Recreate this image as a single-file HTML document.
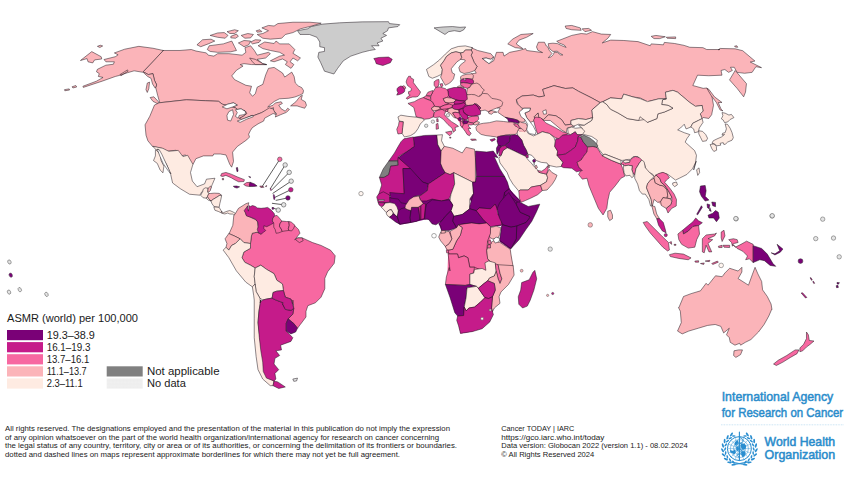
<!DOCTYPE html>
<html><head><meta charset="utf-8"><title>Cancer Today map</title>
<style>
html,body{margin:0;padding:0;background:#fff;}
body{width:850px;height:478px;overflow:hidden;position:relative;font-family:"Liberation Sans",sans-serif;}
svg{position:absolute;left:0;top:0;}
#map path{stroke:#1c141c;stroke-width:0.5;stroke-linejoin:round;}
text{font-family:"Liberation Sans",sans-serif;}
.leg{font-size:10px;fill:#1a1a1a;}
.ft{font-size:7.6px;fill:#1a1a1a;}
.logo{fill:#2a8ccb;stroke:#2a8ccb;stroke-width:0.5px;}
</style></head><body>
<svg width="850" height="478" viewBox="0 0 850 478">
<g id="map">
<path d="M80.47,60.47 91.76,51.62 101.18,56.71 101.74,58.96 94.59,59.91 92.71,62.92 88,61.79 87.06,58.59ZM97.41,46.35 100.24,45.22 102.68,45.98 99.86,47.48Z" fill="#fbb4b9"/>
<path d="M162.12,50.47 180,50.47 191.29,49.53 196,51.04 206.35,52.92 208.24,55.18 213.88,56.12 217.65,53.67 228.94,53.67 242.12,55.18 245.88,52.35 244.94,47.65 250.59,45.76 254.35,50.47 257.18,55.18 268.47,52.35 270.35,53.67 265.65,58 257.18,59.32 262.82,63.65 266.59,64.59 251.53,64.59 244,63.65 240.24,64.59 243.06,66.09 236.47,70.24 231.76,75.88 234.59,79.65 245.88,85.29 251.53,86.24 249.65,92.82 252.47,96.21 255.29,93.76 257.18,87.18 262.82,84.35 265.65,74.94 268.47,68.35 274.12,67.41 282.59,73.06 284.71,77.06 291.76,72.12 294.12,76.47 295.29,82.94 298.24,85.88 301.76,87.65 303.53,90.59 302.94,93.53 299.41,95.29 294.71,97.06 288.82,98.24 279.41,98.82 274.71,101.18 270,104.71 267.65,107.06 272.94,105.29 275.29,102.94 281.18,101.76 282.35,103.53 278.82,105.29 281.18,108.82 285.29,111.18 287.65,108.24 289.41,109.41 286.47,112.35 280.59,114.71 275.29,117.06 276.47,113.53 273.53,110.59 273.53,107.65 268.82,109.41 261.76,112.59 254.24,115.41 250.47,116.35 242.94,120.12 239.18,118.24 242.94,116.35 246.71,113.53 244.82,110.71 239.18,110.71 235.41,107.88 222.24,104.12 218.47,101.29 205.29,100.73 186.47,99.79 159.18,102.8 159.53,101.88 157.65,95.29 155.76,87.76 156.71,84.94 154.45,80.24 152.94,73.65 148.24,74.59 143.15,71.76 163.29,50.49Z" fill="#fbb4b9"/>
<path d="M222.24,106.94 227.88,104.12 233.53,102.8 237.29,105.06 232.59,106.94 226.94,108.82ZM228.82,111.65 232.59,109.76 233.53,114.47 230.71,121.06 227.51,120.12 226.94,115.41ZM235.41,109.76 241.06,108.82 245.76,111.65 244.82,114.47 239.18,115.41 238.24,118.24 235.41,116.35 237.29,112.59ZM237.29,121.06 244.82,118.24 252.35,115.41 253.29,116.73 246.71,119.18 240.12,122.38Z" fill="#fff"/>
<path d="M258.12,45.76 264.71,42 274.12,43.51 276,41.06 279.76,43.88 289.18,43.88 294.82,49.53 292.94,53.29 300.47,58 297.65,60.82 292.94,58 290.12,61.76 293.88,64.59 291.06,68.35 285.41,64.59 287.29,61.76 282.59,58.94 274.12,61.76 270.35,60.82 279.76,56.12 284.47,55.18 279.76,52.35 270.35,50.47 262.82,48.59ZM261.88,27.88 268.47,25.44 274.12,26 277.88,23.55 292.94,22.24 309.88,22.24 321.18,23.18 311.76,26 300.47,28.82 292.94,32.59 285.41,34.47 281.65,38.24 270.35,39.18 262.82,38.24 257.18,34.47 262.82,33.53 268.47,30.71ZM209.18,45.76 223.29,43.88 231.76,41.06 234.59,46.71 236.47,50.47 230.82,51.79 217.65,52.35 210.12,51.41 207.29,49.53ZM196.94,44.82 202.59,39.74 211.06,39.18 214.82,41.06 208.24,43.88 200.71,46.71ZM210.12,35.41 217.65,32.96 224.24,32.59 228,35.41 225.18,38.24 217.65,37.29ZM227.06,31.65 234.59,29.76 238.35,30.71 234.59,33.53 229.88,33.53ZM230.82,36.35 236.47,34.09 238.35,36.35 235.53,38.24 230.82,37.86ZM241.18,35.41 247.76,33.53 253.41,34.47 250.59,37.86 244.94,38.24ZM256.24,30.71 260,29.76 261.88,31.65 257.18,32.21ZM238.35,42.94 244,40.49 250.59,41.06 248.71,44.82 244,46.71ZM250.59,42 255.29,39.74 260.94,40.12 259.06,42.38 252.47,43.88ZM249.65,58 255.29,59.32 262.82,63.65 266.59,64.59 255.29,64.59 252.47,61.76Z" fill="#fbb4b9"/>
<path d="M290.59,105.88 295.88,101.76 300,96.47 302.35,95.29 301.18,99.41 305.29,101.76 306.47,105.29 304.71,108.24 300.59,107.06 297.06,105.88Z" fill="#fbb4b9"/>
<path d="M114.35,52.94 124.71,49.18 138.82,46.35 152.94,48.24 163.29,50.49 143.15,71.76 148.24,74.59 152.94,73.65 154.45,80.24 156.71,84.94 155.2,88.14 152.56,84 151.06,78.35 147.67,76.47 143.15,72.33 134.12,70.82 127.53,72.71 119.06,75.53 115.29,76.47 102.12,81.18 83.29,87.39 82.92,86.26 96.47,81.18 103.06,77.41 98.35,76.47 99.29,73.65 96.47,71.76 97.41,69.32 105.88,65.18 113.41,64.24 114.35,61.79 105.88,61.79 104,59.53 115.29,56.71 118.12,54.82ZM64.47,89.65 69.18,88.89 69.55,90.02 64.85,90.78ZM72,86.82 75.76,85.51 76.71,87.01 72.94,87.95ZM120,74.59 127.53,69.88 128.09,71.2 120.94,75.72ZM147.29,83.06 149.55,82.12 148.8,88.71 147.29,92.47 145.98,89.65ZM150.12,97.55 153.88,96.8 158.59,101.88 157.65,103.76 152.94,101.32Z" fill="#fbb4b9"/>
<path d="M159.18,102.8 186.47,99.79 205.29,100.73 218.47,101.29 222.24,104.12 235.41,107.88 239.18,110.71 244.82,110.71 246.71,113.53 242.94,116.35 239.18,118.24 242.94,120.12 250.47,116.35 254.24,115.41 261.76,112.59 269.29,107.88 273.06,108.82 275.88,114.47 273.06,113.53 264.59,118.24 263.65,121.06 258,123.88 252.35,127.65 250.47,130.47 248.59,134.24 249.53,137.06 246.71,139.88 237.29,146.47 232.59,152.12 233.53,161.53 231.65,167.18 229.76,164.35 226,154.94 220.35,154 213.76,154 212.82,155.88 203.41,155.88 195.88,158.71 193.06,164.35 190.24,164.35 185.53,154.94 180.82,155.88 176.12,150.24 167.65,151.18 162,148.35 152.59,146.47 147.88,140.82 146,135.18 145.06,124.82 149.76,116.35 154.47,105.06Z" fill="#fbb4b9"/>
<path d="M222.24,106.94 227.88,104.12 233.53,102.8 237.29,105.06 232.59,106.94 226.94,108.82ZM228.82,111.65 232.59,109.76 233.53,114.47 230.71,121.06 227.51,120.12 226.94,115.41ZM235.41,109.76 241.06,108.82 245.76,111.65 244.82,114.47 239.18,115.41 238.24,118.24 235.41,116.35 237.29,112.59ZM237.29,121.06 244.82,118.24 252.35,115.41 253.29,116.73 246.71,119.18 240.12,122.38Z" fill="#fff"/>
<path d="M152.82,146.24 162.8,148.31 168.82,151.32 178.24,150.38 182.94,156.59 187.65,155.27 192.92,164.31 190.47,172.59 192.35,181.06 197.06,186.71 204.59,183.88 206.47,179.18 214.94,178.24 212.12,184.82 210.24,189.53 208.73,188.78 206.47,188.59 201.76,191.79 199.88,195.18 189.53,194.24 180.12,188.59 172.59,182.94 170.71,174.47 166.94,165.06 161.29,155.65ZM155.41,150.24 158.24,149.29 160.12,154 161.06,160.59 163.88,166.24 162.94,172.82 160.12,170 157.29,163.41 153.53,160.59 155.41,155.88Z" fill="#feebe2"/>
<path d="M200.66,195.28 202.79,191.37 203.15,189.24 205.28,187.82 208.12,188.17 207.77,192.08 208.83,193.5 207.41,196.7 205.99,198.12 203.15,197.77Z" fill="#feebe2"/>
<path d="M208.12,188.17 210.61,186.04 211.32,187.11 210.26,190.66 208.83,192.08 207.77,192.08Z" fill="#fbb4b9"/>
<path d="M207.41,196.7 208.83,193.5 210.61,193.5 214.16,193.15 219.14,193.36 221.63,195.28 219.85,195.28 217.01,197.06 213.45,199.19 210.97,200.97 208.83,198.83Z" fill="#fbb4b9"/>
<path d="M205.99,198.12 207.41,197.06 208.83,198.83 210.97,200.97 208.48,200.26Z" fill="#feebe2"/>
<path d="M210.97,200.97 213.45,199.19 217.01,197.06 219.85,195.28 221.63,195.64 220.92,199.19 219.85,203.45 219.14,207.36 214.16,206.65 212.03,203.81Z" fill="#feebe2"/>
<path d="M213.81,206.87 219.14,207.36 221.27,210.92 222.34,213.4 218.78,211.63 214.88,210.21Z" fill="#feebe2"/>
<path d="M221.27,211.27 223.4,212.69 226.96,211.27 229.8,210.56 233,211.98 235.49,213.4 234.42,215.54 232.64,214.12 229.8,213.97 227.67,213.05 224.83,213.97 222.34,213.4Z" fill="#feebe2"/>
<path d="M220.59,175.94 221.65,173.51 225.88,172.45 231.18,174.14 237.53,177 244.41,179.65 243.88,181.55 238.59,181.77 235.41,180.18 231.18,177.74 225.88,175.41 222.71,176.47ZM222.18,178.59 223.55,178.38 223.55,179.86 222.39,179.86Z" fill="#f768a1"/>
<path d="M233.3,186.21 236.47,186 239.65,186.85 237,188.12 234.35,187.27Z" fill="#7a0177"/>
<path d="M243.67,184.41 246.53,182.61 250.24,182.3 249.71,186.53 246,186Z" fill="#f768a1"/>
<path d="M250.24,182.3 254.47,183.88 257.12,186 253.41,186.53 249.71,186.53 249.39,184.41Z" fill="#7a0177"/>
<path d="M236.26,167.79 237.53,167.47 238.06,171.18 237,171.71ZM248.65,176.47 250.77,177 250.24,177.74Z" fill="#7a0177"/>
<path d="M259.77,186 262.94,186.21 264,187.27 260.83,187.59ZM265.59,186 266.65,185.47 266.12,187.06Z" fill="#f768a1"/>
<path d="M250.47,243.53 251.41,236 252.35,233.18 257.06,232.24 260.82,234.12 262.71,231.29 262.71,225.65 272.12,222.82 279.65,221.88 289.06,222.82 294.71,225.65 298.47,229.41 299.98,233.18 298.47,235.06 294.71,239.76 297.53,237.88 302.24,237.88 312.59,242.59 321.06,245.41 330.47,250.12 335.18,255.76 334.24,263.29 327.65,271.76 324.82,278.35 324.82,288.71 321.06,297.18 315.41,302.82 307.88,305.65 306,311.29 306,316.94 300.35,324.47 297.53,328.24 293.76,323.53 288.12,318.82 292.82,314.12 293.76,308.47 292.82,300 292.82,304.71 290.94,299.06 285.29,297.18 283.41,290.59 282.47,284 276.82,280.24 274,273.65 266.47,269.32 260.82,265.18 255.18,268 250.47,265.18 244.82,262.35 242,257.65 243.88,252 250.47,248.24Z" fill="#f768a1"/>
<path d="M235.65,213.06 238.47,208.35 246,203.65 248.82,202.71 247.88,206.47 245.06,209.29 246,214.94 251.65,217.76 257.29,220.59 258.24,228.12 259.18,232.82 257.06,232.24 252.35,233.18 251.41,236 250.47,243.53 243.88,242.59 240.12,238.82 234.47,236 228.82,233.55 229.06,233.76 232.82,225.29 233.76,215.88Z" fill="#fbb4b9"/>
<path d="M244.12,210.71 246.47,207.88 247.41,206 247.88,208.82 248.35,211.18 248.82,208.35 248.82,205.53 250.24,206.47 252.59,205.53 255.41,206.47 257.29,207.88 261.06,208.35 264.82,207.88 267.65,207.41 269.53,208.82 271.41,210.24 274.24,213.53 274.71,215.88 272.82,218.24 272.35,221.06 273.76,222.94 270.47,224.82 266.71,226.71 263.88,225.76 263.88,228.59 265.76,230.47 263.41,232.35 261.06,234.24 258.24,232.35 257.29,229.53 258.24,226.71 257.76,222 255.41,219.18 250.71,217.29 246.47,215.88 245.53,213.06Z" fill="#c51b8a"/>
<path d="M274.71,215.88 277.06,215.41 280.35,219.18 281.76,221.06 279.88,223.88 279.41,226.24 281.29,229.06 282.24,231.41 278.94,232.82 276.12,233.29 275.18,229.53 273.76,227.18 273.76,222.94 272.35,221.06 272.82,218.24Z" fill="#f768a1"/>
<path d="M281.76,221.06 286.47,221.53 288.82,221.53 289.29,225.29 288.35,228.59 288.82,230.47 285.06,230.94 282.24,231.41 281.29,229.06 279.41,226.24 279.88,223.88Z" fill="#f768a1"/>
<path d="M288.82,221.53 291.18,222 294.94,225.29 293.53,228.59 291.65,230.94 288.82,230.47 288.35,228.59 289.29,225.29Z" fill="#f768a1"/>
<path d="M225.06,238.82 228.82,233.55 234.47,236 240.12,238.82 235.41,243.53 231.65,245.41 228.82,250.12 226,247.29 226.94,243.53Z" fill="#fbb4b9"/>
<path d="M226,247.29 228.82,250.12 231.65,245.41 235.41,243.53 240.12,238.82 243.88,242.59 250.47,243.53 250.47,248.24 243.88,252 242,257.65 244.82,262.35 250.47,265.18 255.18,268 254.24,276.47 255.18,284 252.35,286.82 245.76,282.12 236.35,270.82 228.82,257.65 223.18,250.12Z" fill="#feebe2"/>
<path d="M255.18,268 260.82,265.18 266.47,269.32 274,273.65 276.82,280.24 282.47,284 283.41,290.59 276.82,291.15 273.06,292.47 272.12,298.12 266.47,299.06 262.71,300 259.88,298.12 256.12,291.53 255.18,284 254.24,276.47Z" fill="#feebe2"/>
<path d="M252.35,286.82 255.18,284 256.12,291.53 259.88,298.12 260.45,302.82 260.82,300 258.94,311.29 258,322.59 259.88,337.65 261.76,350.82 264.59,362.12 265.53,371.53 268.35,378.12 274,380.94 273.06,385.65 270.24,385.65 262.71,379.06 258,369.65 256.12,356.47 254.24,337.65 254.24,318.82 254.24,300 253.67,295.29Z" fill="#feebe2"/>
<path d="M259.88,302.82 262.71,300 266.47,299.06 272.12,298.12 275.88,300 283.41,302.82 285.29,308.47 282.47,303.76 285.29,309.41 290.94,310.35 293.76,308.47 292.82,314.12 288.12,318.82 286.24,323.53 286.24,331.06 290,334.82 292.82,337.65 290.94,341.41 280.59,345.18 281.53,349.88 275.88,350.82 279.65,355.53 274.94,358.35 274,364 278.71,369.65 274.94,373.41 275.88,379.06 274,380.94 266.47,378.12 263.27,371.53 262.71,362.12 260.82,350.82 259.32,337.65 258,322.59 258.94,311.29 260.82,300ZM274,380.94 277.76,381.88 285.29,386.96 278.71,388.47 273.06,385.65Z" fill="#c51b8a"/>
<path d="M273.06,292.47 276.82,291.15 283.41,290.59 285.29,297.18 290.94,299.06 292.82,304.71 293.76,308.47 290.94,310.35 285.29,309.41 282.47,303.76 283.41,302.82 275.88,300 272.12,298.12Z" fill="#c51b8a"/>
<path d="M286.24,323.53 288.12,318.82 293.76,323.53 297.53,328.24 295.65,332 290.94,333.88 286.24,331.06Z" fill="#7a0177"/>
<path d="M292.82,379.06 297.53,378.12 296.59,380.94 293.76,381.32Z" fill="#e4e4e4"/>
<path d="M295.65,239.76 297.53,237.88 302.24,237.88 303.18,240.71 299.41,242.59Z" fill="#f768a1"/>
<path d="M297.55,30.71 307.53,28.82 311.29,26.56 322.59,24.12 339.53,22.8 362.12,21.86 388.47,21.67 389.41,23.55 399.76,24.68 397.88,26.56 388.47,27.88 387.53,30.71 382.82,33.53 386.59,35.41 380.94,38.24 382.82,41.06 377.18,42.94 379.06,45.76 371.53,45.76 375.29,49.53 369.65,50.47 362.12,52.35 350.82,56.12 343.29,60.82 337.65,68.35 333.88,74 324.47,71.18 320.71,62.71 317.88,57.06 318.82,52.35 324.47,51.41 324.47,47.65 319.76,46.71 319.76,42 316.94,37.29 309.41,34.47 300,34.47Z" fill="#cccccc"/>
<path d="M373.79,58.56 379.06,57.44 388.47,57.06 392.24,59.32 390.35,62.71 382.82,65.53 376.24,63.65 375.29,60.82Z" fill="#c51b8a"/>
<path d="M434.02,27.88 443.06,26.94 452.47,26.56 460,27.32 465.65,26.94 463.76,29.76 460,31.65 454.35,30.71 448.71,31.65 444.94,34.47 440.24,31.65Z" fill="#cccccc"/>
<path d="M471.06,47.65 477.65,50.47 490.82,53.67 493.65,57.06 490.82,59.32 486.12,58 482.35,58.56 488.94,63.65 493.65,60.82 496.47,52.35 503.06,52.35 504,56.12 509.65,52.35 519.06,50.47 525.65,48.59 526.59,50.47 542.59,52.59 537.88,50.24 536.47,46.94 538.35,42.24 544.47,42.24 546.35,46 547.95,47.13 549.18,50.24 552,53.53 548.24,57.76 551.06,56.82 553.41,54.47 554.35,52.12 557.65,52.59 560.47,54.94 562.82,54.94 559.53,53.06 557.18,51.18 552.94,51.46 550.12,49.29 548.52,46.19 548.24,43.65 552.94,43.18 557.65,43.65 561.41,45.53 566.12,47.41 564.24,45.06 559.53,43.18 556.71,41.29 571.76,35.41 581.18,33.53 586.82,34.09 592.47,31.65 601.29,34.09 610.71,34.47 607.88,38.24 602.24,42.94 610.71,40.12 623.88,40.49 638,41.62 650.24,45.76 651.18,43.88 663.41,44.82 664.35,42.38 674.71,43.51 684.12,45.39 689.76,47.27 702.94,47.65 706.71,49.53 719.88,49.53 718.24,49.76 720.12,48.45 735.18,48.82 742.71,50.71 754.94,61.06 750.24,62 761.53,67.65 755.88,66.71 752.12,72.35 744.59,73.29 737.06,72.35 734.24,67.27 730.47,67.27 732.35,70.47 728.59,72.35 724.82,69.53 721.06,70.47 722,75.18 708.82,75.74 697.53,75.18 692.82,85.53 703.18,88.35 706.94,87.98 711.65,94.94 713.53,105.29 711.65,114.71 708.82,118.47 703.18,117.53 702.12,118.59 700.24,113.88 703.06,111.06 702.12,105.41 695.53,106.35 689.88,102.59 677.65,92.24 672.94,90.35 665.41,92.24 666.35,98.82 658.82,98.82 647.53,101.65 640,97.88 633.06,96.94 623.65,94.12 621.76,98.82 610.47,97.88 602.94,101.65 600.12,102.59 591.65,97.88 578.47,91.29 572.82,87.91 565.29,88.47 554,85.65 542.71,89.41 544.59,96 538.94,96.94 533.29,95.06 522,96 516.35,99.76 516.95,103.4 520.3,106.33 522.4,108.84 521.98,110.94 524.49,114.29 523.65,117.64 525.33,120.99 523.65,121.83 519.46,122.83 517.79,120.32 513.6,119.06 508.58,118.22 505.23,117.39 501.88,115.13 497.69,112.19 500.2,108.01 496.85,108.01 496.85,102.56 491.83,100.89 487.64,96.7 482.61,95.86 480.1,97.96 471.47,91.06 471.27,83.77 470.56,78.79 471.27,73.82 476.25,73.11 474.71,70.59 477.06,66.47 474.12,62.35 472.94,59.41 471.18,55.29 472.35,52.35 471.18,50 472.35,47.65Z" fill="#fbb4b9"/>
<path d="M507.76,43.88 512.47,39.18 520.94,34.47 533.18,33.53 526.59,37.29 519.06,40.12 516.24,43.88 522.82,48.59 515.29,47.65ZM565.18,26 571.76,25.44 580.24,27.88 581.18,30.33 571.76,29.76 566.12,28.45ZM582.12,28.82 588.71,28.45 591.53,30.33 584.94,31.65ZM651.18,36.35 655.88,35.41 665.29,36.73 659.65,38.61 654,38.61ZM666.24,37.29 675.65,36.92 675.65,38.61 667.18,38.24ZM734.56,46.14 736.82,45.76 737.76,47.27 735.32,47.08Z" fill="#fbb4b9"/>
<path d="M482.35,58.56 486.12,58 490.82,59.32 493.65,57.06 492.33,60.45 488.94,63.65Z" fill="#fff"/>
<path d="M729.53,79.88 735.18,70.47 740.82,77.06 746.47,83.65 745.53,92.12 743.65,96.82 737.06,88.35Z" fill="#fbb4b9"/>
<path d="M706.94,88.35 708.82,89.29 714.47,96.82 722,102.47 718.24,102.47 721.06,109.06 722.94,110.94 720.12,110 716.35,102.47 710.71,94.94Z" fill="#fbb4b9"/>
<path d="M457.41,86.61 459.19,85.9 462.74,86.26 464.16,87.32 462.74,87.68 457.77,87.68Z" fill="#fbb4b9"/>
<path d="M426.47,69.41 433.53,64.71 439.41,60 445.29,54.12 451.18,48.82 458.24,46.47 465.29,45.88 472.35,47.65 471.18,50 465.29,50 463.53,52.35 460.59,52.94 455.88,51.76 451.18,52.94 446.47,56.47 444.12,60.59 440.59,65.29 442.35,69.41 441.76,74.12 437.06,76.47 432.35,78.24 428.82,76.47 427.65,72.94Z" fill="#feebe2"/>
<path d="M441.76,74.12 442.35,69.41 440.59,65.29 444.12,60.59 446.47,56.47 451.18,52.94 455.88,51.76 460.59,52.94 461.76,57.65 460.59,59.41 457.06,61.76 453.53,65.88 451.18,68.82 452.35,72.94 454.71,74.12 453.53,78.82 451.18,81.76 448.82,83.53 445.29,85.29 443.53,82.35 440.59,77.06Z" fill="#fbb4b9"/>
<path d="M460.59,52.94 463.53,52.35 465.29,50 471.18,50 472.35,52.35 471.18,55.29 472.94,59.41 474.12,62.35 477.06,66.47 474.71,70.59 470,72.35 464.12,73.53 460,71.76 458.82,67.65 460.59,64.71 465.29,61.18 464.71,59.76 460.59,59.41 461.76,57.65Z" fill="#fbb4b9"/>
<path d="M460.61,76.66 462.74,75.24 467.01,74.17 471.98,73.82 473.4,75.24 473.05,78.44 471.27,79.15 467.01,78.44 463.45,78.79 460.61,79.5Z" fill="#fbb4b9"/>
<path d="M460.26,80.57 463.45,78.79 464.02,79.22 464.88,80.57 465.94,80.21 465.44,78.65 467.01,78.44 471.27,79.15 473.05,79.86 473.76,81.99 473.05,83.77 470.56,83.77 467.01,83.06 463.45,82.7 460.61,83.06Z" fill="#c51b8a"/>
<path d="M460.61,83.06 463.45,82.7 467.01,83.06 470.56,83.77 471.27,84.83 469.85,87.32 467.36,88.39 464.16,87.32 462.74,86.26 460.61,85.19Z" fill="#f768a1"/>
<path d="M434.12,81.76 436.47,80 438.82,79.41 439.18,82.35 438.24,86.47 435.88,87.65 434.12,85.29ZM440,84.12 442.35,83.53 442.94,85.88 441.18,87.06Z" fill="#f768a1"/>
<path d="M406.13,81.93 407.07,78.79 408.64,76.28 410.52,76.28 410.84,77.85 413.66,79.42 413.35,82.56 415.23,85.07 417.12,87.58 419,90.09 420.57,91.98 419.63,94.18 418.06,96.37 415.86,97 412.72,97 410.21,97.63 407.07,99.2 406.13,98.26 408.33,96.37 410.21,95.12 408.64,94.18 408.45,91.66 410.84,91.04 411.47,88.84 409.58,86.95 407.7,85.7 406.76,83.81ZM402.36,86.45 403.62,85.7 405.19,86.64 405.81,88.21 404.56,88.84 402.99,87.9Z" fill="#f768a1"/>
<path d="M397.02,88.84 398.28,87.27 400.79,86.01 402.68,86.45 402.99,87.9 404.56,88.84 404.87,90.09 404.24,91.98 402.05,93.55 399.54,94.49 396.71,95.12 397.97,92.61 397.02,90.72Z" fill="#c51b8a"/>
<path d="M432.65,91.06 447.94,89.88 448.53,96.94 453.82,102.82 452.65,109.29 458.53,113.41 460.88,119.29 463.24,122.82 460.88,124 456.18,118.12 450.29,113.41 445.59,111.06 433.82,111.06 430.88,100.47Z" fill="#f768a1" style="stroke:none"/>
<path d="M447.94,89.88 465.59,89.88 467,99.29 465.59,105.18 477.35,105.18 479.71,112.24 477.35,115.18 467.94,116 467.35,119.29 463.24,119.29 459.12,112.82 452.65,109.29 453.82,102.82 448.53,96.94Z" fill="#c51b8a" style="stroke:none"/>
<path d="M466.7,94.19 470.89,93.35 476.75,94.61 480.1,96.28 482.61,93.35 487.64,93.77 491.83,98.38 496.85,99.21 501.04,100.47 502.71,102.56 501.88,105.91 499.36,107.17 496.85,108.01 493.5,109.26 490.99,110.52 488.48,111.78 486.8,110.94 485.13,110.1 482.61,110.52 480.52,110.94 479.26,109.26 480.94,108.01 478.84,105.91 476.75,104.24 474.66,103.82 472.56,105.08 468.38,105.49 465.86,105.08 465.03,100.89 466.7,97.54ZM488.48,111.78 490.99,110.52 493.5,110.94 496.85,112.19 493.5,112.61 491.41,114.29 488.89,113.45Z" fill="#fbb4b9"/>
<path d="M469.85,87.32 471.27,84.83 473.05,83.77 476.96,83.06 479.8,84.83 481.93,88.03 484.42,90.16 482.64,91.59 482.29,93.36 480.51,95.14 478.38,96.56 474.83,94.78 471.27,94.43 467.72,94.78 466.65,93.36 467.36,88.39Z" fill="#fbb4b9"/>
<path d="M447.94,91.06 447.35,89.29 453.82,87.53 460.88,87.53 465.59,89.29 466.76,94.59 467.35,99.29 464.41,101.06 459.71,100.47 456.18,99.88 451.47,98.12 448.53,95.76Z" fill="#c51b8a"/>
<path d="M430.29,100.47 430.88,95.76 432.65,92.24 435,88.71 435.59,87.53 439.71,86.94 445.59,88.71 447.94,91.06 448.53,95.76 446.76,97.53 443.24,98.71 445,102.24 449.12,104 444.41,105.18 440.29,106.94 434.41,106.35 432.65,102.24Z" fill="#f768a1"/>
<path d="M426.18,95.18 427.94,92.24 432.65,90.47 432.65,92.24 430.88,95.76 426.18,95.76Z" fill="#f768a1"/>
<path d="M423.24,97.53 426.18,95.76 430.29,96.35 430.88,99.29 430.29,100.47 425.59,98.71Z" fill="#f768a1"/>
<path d="M407.94,103.41 414.41,101.65 418.53,99.29 423.24,97.53 425.59,98.71 430.29,100.47 432.65,102.24 434.41,105.76 431.47,108.12 432.65,110.47 434.41,112.24 433.24,116.94 429.12,118.71 424.41,119.29 422.06,118.12 416.18,116.94 415,112.24 413.82,107.53ZM436.76,118.71 437.94,118.71 438.29,121.65 436.76,121.65Z" fill="#f768a1"/>
<path d="M397.94,116.94 400.88,115.18 407.94,116.35 416.18,117.18 422.06,118.35 424.41,119.88 420.29,124 417.94,128.71 415,132.82 410.29,135.76 404.41,136.94 402.06,133.41 402.65,127.53 403.24,121.65 399.12,121.06Z" fill="#feebe2"/>
<path d="M399.12,121.41 403.24,121.88 402.65,127.53 402.06,133.41 397.94,134 396.76,129.29 398.53,125.18Z" fill="#f768a1"/>
<path d="M434.41,112.24 437.35,110.47 442.06,109.29 445.59,111.65 444.41,114.59 446.76,117.53 451.47,121.65 456.18,124.59 458.53,126.35 455,127.53 455.59,130.47 453.24,132.24 452.06,128.12 447.94,124.59 443.24,119.29 439.71,116.94 435.59,117.53 433.24,116.94ZM445.59,132.24 451.47,131.06 452.06,133.41 449.71,135.76ZM436.18,124 437.94,123.41 438.53,128.71 436.18,129.29Z" fill="#f768a1"/>
<path d="M431.47,108.12 434.41,106.35 439.12,106.94 440.29,108.71 437.35,110.12 434.41,110.82 432.65,110.47Z" fill="#fbb4b9"/>
<path d="M440.29,106.94 444.41,105.18 449.12,104 452.65,105.18 452.06,107.53 447.94,108.71 442.06,109.29 440.29,108.71Z" fill="#f768a1"/>
<path d="M443.24,98.71 446.76,97.53 451.47,98.12 456.18,99.88 453.82,102.24 449.12,102.82 445,102.24Z" fill="#fbb4b9"/>
<path d="M453.82,102.24 456.18,100.24 459.71,100.71 464.41,101.06 463.82,102.82 459.12,104 455,104.24Z" fill="#c51b8a"/>
<path d="M452.65,105.18 455,104.24 459.12,104 463.82,102.82 465.59,104.59 462.65,108.12 458.53,109.65 454.41,109.29 452.06,107.53Z" fill="#c51b8a"/>
<path d="M462.51,109.68 465.03,106.33 468.38,105.49 472.56,105.08 474.66,103.82 478.01,106.75 479.26,109.26 480.52,110.94 480.52,114.29 478.43,115.13 473.4,116.38 469.21,115.96 466.28,114.29 463.77,112.19Z" fill="#c51b8a"/>
<path d="M474.66,103.82 476.75,104.24 478.84,105.91 480.94,108.01 479.26,109.26 478.01,106.75Z" fill="#c51b8a"/>
<path d="M467.65,117.35 472.94,116.18 478.24,116.18 478.82,119.12 476.47,121.47 473.53,123.24 468.24,122.06 468.24,120.29Z" fill="#f768a1"/>
<path d="M459.12,109.88 462.65,108.35 463.82,112.82 467.71,115.76 467.94,118.71 465.59,119.88 462.65,118.71 460.88,115.76 459.12,112.82Z" fill="#c51b8a"/>
<path d="M447.94,108.94 452.06,107.76 454.41,109.29 458.53,109.88 459.12,112.82 455,112.24 452.65,112.82 456.18,118.12 453.82,117.53 450.29,113.41 447.35,111.65Z" fill="#fbb4b9"/>
<path d="M445.59,109.88 447.94,108.94 447.71,111.29 445.59,111.65Z" fill="#f768a1"/>
<path d="M452.65,113.06 455,112.24 459.12,112.82 460.29,116.35 457.94,118.71 455.59,117.53Z" fill="#f768a1"/>
<path d="M460.59,122.65 463.53,122.65 468.24,122.06 473.53,123.24 473.53,124.41 471.18,125 468.24,124.76 468.82,126.76 470.82,128.53 468.24,128.53 469.41,131.47 471.18,133.24 469.41,135.82 467.06,134.41 465.29,131.47 463.53,129.12 461.76,126.76ZM470.59,139.12 475.29,139.12 476.47,140.06 471.76,140.53Z" fill="#f768a1"/>
<path d="M462.65,121.41 465.59,120.24 468.18,121.06 467.35,123.41 463.82,124Z" fill="#7a0177"/>
<path d="M462.29,118.94 464.41,119.29 464.41,121.06 462.65,121.06Z" fill="#c51b8a"/>
<path d="M458.18,118.71 460.29,116.94 462.06,118.71 460.29,120.71 458.53,120.24Z" fill="#7a0177"/>
<path d="M460.29,121.06 462.29,121.41 463.47,124.59 462.06,127.53 460.29,125.18Z" fill="#f768a1"/>
<path d="M490,139.71 494.71,138.53 495.29,139.71 491.76,141.47Z" fill="#c51b8a"/>
<path d="M449.71,137.18 450.88,137.18 450.88,138.12 449.71,138.12Z" fill="#f768a1"/>
<path d="M381.29,197.53 407.65,195.65 426.47,197.53 452.82,199.41 452.82,210.71 441.53,222 426.47,219.18 410.47,222.94 400.12,224.82 388.82,216.35 384.12,204.12Z" fill="#7a0177" style="stroke:none"/>
<path d="M449.06,199.41 475.41,208.82 501.76,220.12 501.76,225.76 456.59,227.65 441.53,230.47 438.71,223.88 450.94,210.71Z" fill="#7a0177" style="stroke:none"/>
<path d="M499.88,205.06 520.59,203.18 530,208.82 530,218.24 515.88,240.82 510.24,249.29 499.88,241.76 501.76,224.82 498,214.47Z" fill="#7a0177" style="stroke:none"/>
<path d="M449.06,231.41 490.47,226.71 490.47,262.47 486.71,271.88 469.76,273.76 469.76,279.98 447.18,279.98 448.12,254 445.29,246.47Z" fill="#f768a1" style="stroke:none"/>
<path d="M486.71,240.82 510.24,249.29 513.06,266.24 514,274.71 509.29,279.98 486.71,279.98 486.71,265.29Z" fill="#fbb4b9" style="stroke:none"/>
<path d="M398.24,157.65 414.24,146.35 436.82,135.06 441.15,151.06 445.29,172.71 428.35,184 420.82,195.29 403.88,193.41 402.94,168.56Z" fill="#7a0177" style="stroke:none"/>
<path d="M472.59,182.12 504.59,176.47 509.29,188.71 520.59,200.94 518.71,209.98 475.41,209.98 469.76,199.06Z" fill="#7a0177" style="stroke:none"/>
<path d="M457.65,316.09 464.24,307.06 476.47,286.35 487.76,280.71 495.29,290.12 492.47,311.76 489.65,322.12 472.71,331.53 460.47,333.41Z" fill="#c51b8a" style="stroke:none"/>
<path d="M413.29,137.32 424.59,135.44 436.82,135.06 437.76,144.47 441.15,151.06 440.59,163.29 442.47,168 445.29,172.71 428.35,184 422.71,182.12 398.24,157.65 407.65,151.06 414.24,146.35Z" fill="#7a0177"/>
<path d="M403.88,138.82 413.29,136.94 414.24,146.35 407.65,151.06 398.24,156.71 398.24,160.47 388.82,161.04 394.47,152.94 398.24,146.35 401.06,141.65Z" fill="#c51b8a"/>
<path d="M388.82,161.04 397.86,161.04 398.24,165.18 390.71,166.12 388.82,174.59 384.12,177.41 379.41,177.41 383.18,168.94Z" fill="#808080"/>
<path d="M436.82,135.06 442.47,134.68 441.53,140.71 444.35,146.35 441.15,151.06 437.76,144.47Z" fill="#feebe2"/>
<path d="M444.35,146.35 452.82,148.24 462.24,152.94 466,147.29 474.47,149.18 475.41,157.65 475.41,182.12 472.59,182.12 453.76,172.71 450,174.59 445.29,172.71 442.47,168 440.59,163.29 441.15,151.06Z" fill="#fbb4b9"/>
<path d="M475.41,151.06 486.71,152 493.29,151.06 498,157.65 494.24,156.71 499.88,168.94 504.59,176.47 476.35,176.47 475.41,157.65Z" fill="#7a0177"/>
<path d="M397.86,161.04 398.24,157.65 410.47,168.56 402.94,168.56 404.26,193.79 389.58,195.86 387.13,194.54 383.36,193.04 378.66,194.54 381.67,184.94 379.41,177.41 384.12,177.41 388.82,174.59 390.71,166.12 398.24,165.18Z" fill="#c51b8a"/>
<path d="M402.94,168.56 410.47,168.56 422.71,182.12 428.35,184 427.41,190.59 420.82,195.29 414.24,196.24 410.47,200.94 406.71,203.76 401.06,202.82 398.24,199.06 390.71,198.12 389.76,192.47 404.26,193.79Z" fill="#7a0177"/>
<path d="M428.35,184 445.29,172.71 450,174.59 453.76,172.71 454.71,184 450.94,194.35 449.06,199.06 441.53,200.94 432.12,199.06 426.47,200.94 420.82,200.94 418.94,196.24 420.82,195.29 427.41,190.59Z" fill="#c51b8a"/>
<path d="M453.76,172.71 472.59,182.12 473.53,193.41 469.76,199.06 469.76,206 469.76,208.82 462.24,214.47 453.76,216.35 450.94,210.71 452.82,205.06 450,200.35 450.94,194.35 454.71,184Z" fill="#feebe2"/>
<path d="M476.35,176.47 504.59,176.47 507.41,182.12 509.29,188.71 504.59,192.47 502.71,200.94 499.88,206.59 497.06,208.82 495.18,204.12 490.47,208.82 479.18,207.88 476.35,210.71 469.76,208.82 469.76,206 473.53,193.41 472.59,182.12 475.41,182.12Z" fill="#7a0177"/>
<path d="M509.29,188.71 513.06,194.35 520.59,200.94 518.71,202.82 511.18,197.18 504.59,195.29 504.59,192.47Z" fill="#7a0177"/>
<path d="M376.71,196.94 378.59,194.12 383.29,191.76 387.06,193.65 389.41,195.06 389.88,202.12 384.71,202.78 378.12,202.59Z" fill="#c51b8a"/>
<path d="M378.4,199.58 384.24,199.58 384.24,200.89 378.4,200.89Z" fill="#e4e4e4"/>
<path d="M378.12,202.59 384.71,202.78 383.76,205.41 381.41,206.82 379.06,204.94Z" fill="#c51b8a"/>
<path d="M381.41,207.29 383.76,205.41 385.18,203.06 389.88,202.59 394.59,203.53 396.94,206.82 398.35,211.06 397.41,216.71 396,215.76 393.18,212.94 391.29,209.65 388.94,210.12 386.12,212.47 383.29,209.18Z" fill="#feebe2"/>
<path d="M386.12,212.94 388.94,210.12 391.29,209.65 393.18,212.94 392.24,215.29 389.41,217.18 387.06,215.29Z" fill="#feebe2"/>
<path d="M389.41,217.18 392.24,215.29 393.65,213.88 396,216.24 397.41,217.18 398.82,221.41 399.76,224.24 395.53,221.88 391.76,219.06Z" fill="#7a0177"/>
<path d="M397.41,216.71 398.35,211.06 401.18,208.71 404.47,207.76 407.76,209.65 410.59,210.59 410.12,217.65 410.59,222.35 404.94,223.29 399.76,224.24 398.82,221.41Z" fill="#7a0177"/>
<path d="M411.06,210.59 411.53,207.29 418.12,207.29 419.06,211.06 420,219.53 416.24,221.41 410.59,222.35 410.12,217.65Z" fill="#7a0177"/>
<path d="M418.12,207.29 420.94,205.41 420.94,219.53 420,219.53 419.06,211.06Z" fill="#c51b8a"/>
<path d="M420.94,205.41 423.29,203.53 425.65,204 425.18,208.24 424.24,218.59 420.94,219.53Z" fill="#c51b8a"/>
<path d="M405.41,205.41 409.18,199.76 413.41,196.94 419.06,196 420,199.29 423.29,203.53 420.94,205.41 418.12,207.29 411.53,207.29 411.06,210.59 407.76,209.65 404.94,208.24Z" fill="#fbb4b9"/>
<path d="M426.47,204.12 432.12,199.79 441.53,200.92 449.06,199.79 452.82,205.06 450.94,210.71 445.29,216.35 441.53,221.06 435.88,224.82 432.12,223.88 428.35,219.18 424.59,219.18 425.53,208.82Z" fill="#7a0177"/>
<path d="M450.94,210.71 453.76,215.41 452.82,221.06 456.59,227.65 449.06,230.47 441.53,230.47 440.59,225.76 438.71,223.88 441.53,221.06 445.29,216.35Z" fill="#7a0177"/>
<path d="M453.76,216.35 462.24,214.47 469.76,208.82 476.35,210.71 482.94,219.18 486.71,222.94 479.18,223.88 471.65,222.94 464.12,223.88 458.47,224.82 456.59,227.65 452.82,221.06Z" fill="#7a0177"/>
<path d="M476.35,210.71 479.18,207.88 490.47,208.82 495.18,204.12 497.06,208.82 498,214.47 501.76,220.12 501.76,224.82 496.12,225.76 490.47,226.71 486.71,222.94 482.94,219.18Z" fill="#c51b8a"/>
<path d="M504.09,197.26 508.69,192.66 513.29,199.56 516.74,205.32 520.2,212.22 530.55,216.82 525.95,222.58 516.74,226.03 510.99,227.18 502.93,224.88 499.48,217.97 497.18,208.77 499.48,203.01Z" fill="#7a0177"/>
<path d="M516.28,202.55 519.04,201.86 528.25,206.47 539.76,204.17 536.31,212.22 531.7,221.43 525.95,229.48 519.04,239.84 510.99,248.58 516.28,238.69 516.74,226.03 525.95,222.58 530.55,216.82 520.2,212.22 516.74,205.32Z" fill="#7a0177"/>
<path d="M501.78,226.03 502.93,224.88 510.99,227.18 516.74,226.03 516.28,238.69 510.99,248.58 499.48,240.3 500.63,234.09Z" fill="#7a0177"/>
<path d="M490.47,227.65 496.12,226.14 500.82,227.65 499.88,234.24 498,238 492.35,238.94 489.53,237.06Z" fill="#fbb4b9"/>
<path d="M458.47,224.82 464.12,223.88 471.65,222.94 479.18,223.88 486.71,222.94 490.47,226.71 490.47,233.29 487.65,240.82 486.71,250.24 487.65,258.71 490.47,262.47 486.71,265.29 486.71,271.88 481.06,270 474.47,267.18 469.76,267.18 467.88,257.76 464.12,255.88 458.47,257.76 457.53,254 449.06,254 447.18,250.24 452.82,249.29 456.59,240.82 460.35,235.18 462.24,227.65Z" fill="#f768a1"/>
<path d="M450,231.41 456.59,227.65 458.47,224.82 462.24,227.65 460.35,235.18 456.59,240.82 452.82,249.29 447.18,250.24 445.29,246.47 449.06,243.65 451.88,238.94Z" fill="#fbb4b9"/>
<path d="M440.59,232.35 449.06,231.41 451.88,238.94 449.06,243.65 445.29,246.47 440.59,240.82 438.71,237.06Z" fill="#fbb4b9"/>
<path d="M441.15,230.66 445.29,230.47 445.29,232.92 441.15,233.29Z" fill="#fbb4b9"/>
<path d="M489.53,243.65 493.29,240.82 499.88,242.33 510.24,249.29 511.18,255.88 513.06,266.24 501.76,269.06 495.18,264.35 490.47,261.53 487.65,258.71 486.71,250.24Z" fill="#fbb4b9"/>
<path d="M487.65,241.2 490.47,240.45 491.41,243.65 488.59,244.59ZM487.65,244.96 490.47,244.59 490.47,247.98 487.65,247.98Z" fill="#f768a1"/>
<path d="M493.29,239.88 496.12,237.06 499.88,238.56 498.94,241.76 495.18,243.08Z" fill="#fff"/>
<path d="M448.12,254 457.53,254 458.47,257.76 464.12,255.88 467.88,257.76 469.76,267.18 474.47,267.18 473.53,272.82 469.88,274.12 469.88,284.47 465.18,285.41 445.41,284.47 446.35,276.94 449.18,267.53 450,270.94 449.06,261.53ZM446.24,250.61 448.12,249.86 448.68,253.06 446.8,253.06Z" fill="#f768a1"/>
<path d="M469.88,274.12 473.65,273.18 474.59,269.41 482.12,268.47 485.88,270.35 484.94,262.82 488.71,260.94 495.29,262.82 496.24,271.29 494.35,276 489.65,277.88 487.76,280.71 484,283.53 478.35,288.24 476.47,286.35 469.88,284.47Z" fill="#feebe2"/>
<path d="M495.29,263.76 498.12,264.71 500,273.18 501.88,278.82 500,283.53 498.12,278.82 496.24,271.29Z" fill="#f768a1"/>
<path d="M498.12,264.71 513.18,265.65 514.12,275.06 508.47,284.47 500.94,292 499.06,296.71 500,303.29 494.35,308 492.47,311.76 491.53,308 492.47,296.71 495.29,290.12 494.35,283.53 487.76,280.71 489.65,277.88 494.35,276 496.24,271.29 498.12,278.82 500,283.53 501.88,278.82 500,273.18Z" fill="#fbb4b9"/>
<path d="M445.41,284.47 465.18,285.41 469.88,284.47 476.47,286.35 467.06,287.86 466.12,297.65 464.24,307.06 463.67,315.53 457.65,316.09 454.82,312.71 450.12,297.65Z" fill="#7a0177"/>
<path d="M467.06,287.86 476.47,286.35 478.35,288.24 484.94,297.65 480.24,302.35 474.59,307.06 468.94,308 466.12,310.82 464.24,307.06 466.12,297.65Z" fill="#feebe2"/>
<path d="M478.35,288.24 484,283.53 487.76,280.71 494.35,283.53 495.29,290.12 492.47,296.71 488.71,298.59 484.94,297.65Z" fill="#c51b8a"/>
<path d="M457.65,316.09 463.67,315.53 464.24,307.06 466.12,310.82 468.94,308 474.59,307.06 480.24,302.35 484.94,297.65 488.71,298.59 492.47,296.71 491.53,308 492.47,311.76 493.41,314.59 489.65,322.12 482.12,328.71 472.71,331.53 460.47,333.41 458.59,325.88 456.71,320.24Z" fill="#c51b8a"/>
<path d="M521.65,282.59 529.18,279.76 532.94,272.24 534.82,270.35 536.71,278.82 533.88,290.12 530.12,300.47 527.29,306.12 522.59,308 518.82,304.24 518.26,296.71 520.71,290.12Z" fill="#c51b8a"/>
<path d="M600.12,104.47 610.47,100.71 633.06,98.82 651.88,101.65 668.82,106.35 666.94,127.06 650,155.29 621.76,155.29 599.18,147.76 592.59,121.41Z" fill="#feebe2" style="stroke:none"/>
<path d="M600.12,102.59 602.94,101.65 606.71,104.47 610.47,109.18 618,112.94 627.41,118.59 638.71,120.47 650,118.59 647.53,122.35 656.94,118.59 657.88,113.88 664.47,112 672.94,108.24 668.24,105.41 661.65,104.47 662.59,99.76 666.35,98.82 665.41,92.24 672.94,90.35 677.65,92.24 689.88,102.59 695.53,106.35 702.12,105.41 703.06,111.06 700.24,113.88 702.12,118.59 698.35,120.47 692.71,123.29 690.82,127.06 686.12,128.94 684.24,124.24 680.47,128 677.65,129.88 684.24,132.71 689.88,134.59 687.06,138.35 685.18,142.12 694.59,150.59 696.47,155.29 695.53,162.82 693.65,169.98 696.24,161.29 692.47,168.82 686.82,174.47 679.29,178.24 675.53,180.12 671.76,177.29 668,174.47 662.35,172.59 657.65,174.47 654.82,178.24 652.94,174.47 646.35,170.71 644.47,164.12 640.71,160.35 637.88,156.59 633.18,156.59 630.35,159.41 628.47,159.41 622.82,160.35 620.94,160.35 604.94,154.14 602.12,155.65 602.94,154.35 599.18,149.65 596.35,144.94 597.29,140.24 591.65,136.47 584.12,134.59 580.35,133.65 582.24,128 578.47,125.18 584.12,125.18 591.65,120.47 592.59,117.65 591.65,110.12ZM672.71,182.94 676.47,182 677.41,184.82 674.59,186.71 672.71,184.82ZM696.61,169.76 699.06,167.88 699.62,172.59 697.74,175.41Z" fill="#feebe2"/>
<path d="M602.94,101.65 610.47,97.88 621.76,98.82 623.65,94.12 633.06,96.94 640.59,98.82 647.53,101.65 658.82,98.82 666.35,98.82 662.59,99.76 661.65,104.47 668.24,105.41 672.94,108.24 664.47,112 657.88,113.88 656.94,118.59 647.53,122.35 640,116.71 638.71,120.47 627.41,118.59 618,112.94 610.47,109.18 606.71,104.47Z" fill="#feebe2"/>
<path d="M516.35,99.76 522,96 533.29,95.06 538.94,96.94 544.59,96 542.71,89.41 554,85.65 565.29,88.47 572.82,87.91 578.47,91.29 591.65,97.88 600.12,102.59 591.65,110.12 592.59,117.65 586,119.53 578.47,118.59 570.94,120.47 570.94,124.24 565.29,125.18 561.53,119.53 555.88,115.76 548.35,114.82 543.65,119.53 538.94,118.59 538,112.94 534.24,116.71 535.18,120.47 530.47,122.35 526.71,117.65 524.82,112.94 529.53,111.06 530.47,108.24 523.88,108.24 522,108.24 518.24,104.47Z" fill="#fbb4b9"/>
<path d="M542.71,111.06 546.09,109.74 546.47,113.88 543.65,114.26Z" fill="#fff"/>
<path d="M538,112.94 538.94,118.59 543.65,119.53 548.35,114.82 555.88,115.76 561.53,119.53 565.29,125.18 570.94,124.24 574.71,126.12 570.94,127.06 567.18,128 566.24,132.71 561.53,129.88 555.88,125.18 550.24,120.47 543.65,120.47 538.94,120.47 535.18,120.47 534.24,116.71Z" fill="#fbb4b9"/>
<path d="M533.53,120 535.29,117.06 540.59,117.65 545.88,122.94 555.29,127.65 562.35,131.76 568.24,133.53 565.88,134.71 562.35,135.29 558.82,138.82 555.29,137.65 549.41,133.53 542.35,131.76 537.65,134.12 535.29,127.06Z" fill="#f768a1"/>
<path d="M570.94,120.47 578.47,118.59 586,119.53 592.59,117.65 591.65,120.47 584.12,125.18 578.47,124.24 573.76,126.12 570.94,124.24Z" fill="#feebe2"/>
<path d="M567.65,128.24 571.76,127.06 575.29,128.24 581.18,127.65 584.71,131.18 582.35,134.71 577.06,134.71 575.29,131.76 570.59,134.71 568.24,133.53Z" fill="#feebe2"/>
<path d="M515.88,128.82 520,131.18 526.47,130.59 528.24,133.53 533.53,135.88 537.65,134.12 542.35,131.76 549.41,133.53 554.12,137.65 555.29,141.76 554.71,146.47 557.65,151.18 557.06,155.29 560,158.82 562.94,162.35 561.18,166.47 556.47,167.06 548.24,165.29 547.06,162.94 541.18,162.35 536.47,160.59 531.76,155.29 527.65,154.12 526.47,150.59 523.53,145.29 521.76,140 517.65,135.29Z" fill="#feebe2"/>
<path d="M517.06,127.35 522.35,128.53 527.29,129.94 524.94,132.29 519.06,131.59Z" fill="#fbb4b9" style="stroke:none"/>
<path d="M475.88,127.35 477.65,125 480.59,123.82 483.53,123.24 489.41,122.65 496.47,120.88 503.53,121.47 508.24,122.06 512.94,121.47 515.29,123.82 517.65,125.59 520,127.94 518.24,129.71 517.06,132.65 515.29,134.41 510.59,134.41 505.88,135 500,136.18 498.82,137.94 495.29,136.76 490.59,136.18 485.88,135.59 481.18,134.41 478.82,132.65 476.47,130.29ZM473.53,123.24 476.47,121.47 479.41,122.06 478.82,123.82 475.29,125 473.53,124.41Z" fill="#fbb4b9"/>
<path d="M513.53,123.82 517.65,123.82 519.41,126.76 521.18,128.53 518.82,128.53 517.06,126.76 515.29,126.18Z" fill="#f768a1"/>
<path d="M518.24,120.88 522.35,122.65 525.88,123.24 527.65,126.76 526.47,129.71 524.71,131.47 522.35,129.12 521.18,128.53 519.41,126.76 517.65,123.82 518.82,123.24Z" fill="#fbb4b9"/>
<path d="M505.23,117.22 508.58,118.06 513.6,118.89 517.79,120.15 519.46,122.66 516.95,123.08 513.6,122.24 510.25,121.83 508.58,121.83 507.74,119.31Z" fill="#7a0177"/>
<path d="M497.65,136.47 505.88,135.29 510.59,135.29 509.41,141.76 505.29,145.29 501.18,146.47 498.24,145.29 497.06,141.18Z" fill="#7a0177"/>
<path d="M510.59,135.29 515.29,134.71 517.65,135.29 521.76,140 523.53,145.29 526.47,150.59 527.65,154.12 524.71,155.88 520.59,154.12 514.71,151.18 507.06,147.65 505.29,145.29 509.41,141.76Z" fill="#7a0177"/>
<path d="M555.29,141.76 555.88,138.82 558.82,138.82 562.35,135.29 565.88,134.71 570.59,134.71 575.29,131.76 577.06,134.71 582.35,134.71 578.24,136.47 577.65,141.18 575.29,147.06 570.59,150.59 565.29,154.12 558.82,155.29 557.06,155.29 557.65,151.18 554.71,146.47Z" fill="#c51b8a"/>
<path d="M557.06,155.29 565.29,154.12 570.59,150.59 575.29,147.06 577.65,141.18 578.24,136.47 580.59,137.06 583.53,142.35 587.65,147.06 587.06,151.76 583.53,156.47 581.18,160 577.06,162.35 578.82,167.06 582.35,170.59 576.47,171.76 571.76,168.24 563.53,167.65 561.18,166.47 562.94,162.35 560,158.82Z" fill="#c51b8a"/>
<path d="M580.59,136.47 584.12,135.29 589.41,137.65 594.12,141.18 597.65,145.29 597.06,147.65 592.94,146.47 587.65,147.06 583.53,142.35Z" fill="#808080"/>
<path d="M587.65,147.06 600,151.76 600,176 582.35,176 582.35,170.59 578.82,167.06 577.06,162.35 581.18,160 583.53,156.47 587.06,151.76Z" fill="#f768a1" style="stroke:none"/>
<path d="M587.65,147.06 592.94,146.47 597.06,147.65 602.12,155.65 611.53,160.35 620.94,164.12 622.82,168.82 624.71,176.35 620.94,178.24 615.29,185.76 609.65,192.35 607.76,200.82 606.82,208.35 603.06,214.94 598.35,208.35 593.65,197.06 588.94,185.76 587.06,178.24 582.35,179.18 578.59,174.47 580.47,171.08 582.35,170.59 578.82,167.06 577.06,162.35 581.18,160 583.53,156.47 587.06,151.76ZM621.18,164.12 622.94,161.18 624.71,162.94 629.41,162.35 630,160.59 631.76,158.24 635.29,156.47 639.41,157.65 641.76,160 639.41,162.94 637.65,165.88 635.88,168.82 634.71,175.29 632.94,172.94 631.76,169.41 632.35,165.88 628.24,165.29 624.71,165.88 623.53,164.71Z" fill="#f768a1"/>
<path d="M602.12,155.65 604.94,154.14 620.94,160.35 620.94,164.12 611.53,160.35Z" fill="#feebe2"/>
<path d="M622.94,161.18 625.88,160 630,160.59 629.41,162.35 624.71,162.94Z" fill="#feebe2"/>
<path d="M623.53,164.71 624.71,165.88 628.24,165.29 632.35,165.88 631.76,169.41 632.94,172.94 633.53,176.47 631.76,177.65 630,175.29 625.88,175.88 624.12,172.94 623.53,168.82Z" fill="#feebe2"/>
<path d="M607.76,211.18 610.59,210.24 612.47,214.94 612.47,218.71 609.65,220.59 607.76,216.82Z" fill="#fbb4b9"/>
<path d="M641.76,160 644.12,161.76 645.29,167.65 649.41,172.35 654.12,176.47 650.59,180 647.65,183.53 646.47,187.65 648.82,193.53 651.18,199.41 652.35,206 650.59,206 648.82,199.41 645.29,194.12 642.35,194.12 639.41,190.59 637.65,184.12 634.71,178.24 634.71,175.29 635.88,168.82 637.65,165.88 639.41,162.94Z" fill="#feebe2"/>
<path d="M649.18,182 657.65,174.47 664.24,183.88 670.82,197.06 670.82,204.59 661.41,205.53 654.82,198.94 649.18,192.35Z" fill="#fbb4b9" style="stroke:none"/>
<path d="M647.65,183.53 650.59,180 654.12,178.24 655.29,182.94 660,185.29 663.53,185.88 667.06,190 667.65,195.29 666.47,198.24 662.94,197.65 660.59,201.76 657.65,202.35 654.12,199.41 652.35,206 654.82,206.47 656.71,214 659.53,218.71 656.71,218.71 653.88,214 652,206.47 651.18,199.41 648.82,193.53 646.47,187.65Z" fill="#fbb4b9"/>
<path d="M654.12,176.47 656.47,175.29 660,178.82 661.18,182.35 664.71,185.29 668.24,190.59 671.76,197.06 670.59,198.82 667.65,198.24 667.65,195.29 667.06,190 663.53,185.88 660,185.29 655.29,182.94 654.12,178.24Z" fill="#fbb4b9"/>
<path d="M655.29,175.29 658.82,173.53 662.94,172.35 667.06,174.12 669.41,177.65 666.47,180 664.71,182.35 669.41,187.65 674.12,194.12 676.47,199.41 676.24,206 671.76,208.35 668,213.06 666.12,208.35 670.82,204.59 671.76,201.76 671.76,197.06 668.24,190.59 664.71,185.29 661.18,182.35 660,178.82 656.47,175.29Z" fill="#f768a1"/>
<path d="M660.59,201.76 662.94,197.65 666.47,198.24 670.59,198.82 671.76,201.76 670.82,204.59 666.12,208.35 661.41,205.53Z" fill="#fbb4b9"/>
<path d="M656.71,218.71 659.53,218.71 663.29,222.47 665.18,229.06 666.12,232.82 662.35,230.94 658.59,225.29ZM682.59,230.24 688.24,225.53 692.94,221.76 695.76,218 698.59,220.82 702.35,222.71 698.59,225.53 692.94,226.47 688.24,231.18 683.53,234Z" fill="#c51b8a"/>
<path d="M643.15,222.47 647.29,221.53 654.82,229.06 662.35,236.59 668.47,242.47 669.41,250 667.53,250.94 662.82,247.18 650.12,232.82 645.41,226.24ZM677.88,234 682.59,230.24 683.53,234 688.24,231.18 692.94,226.47 698.59,225.53 699.53,234 696.71,239.65 694.82,247.18 688.24,248.12 681.65,244.35 678.82,239.65ZM702.35,238.71 706.12,234.94 714.59,234 716.47,233.06 714.59,235.88 708,238.71 712.71,239.65 708,243.41 711.76,251.88 708.94,251.88 706.12,245.29 704.24,252.82 702.35,251.88 702.35,245.29ZM721.18,232.12 724,230.24 724.94,235.88 722.12,241.53 721.18,237.76ZM718.35,246.24 722.12,245.29 722.12,247.55 718.73,247.55ZM723.06,245.29 729.65,245.29 729.65,247.55 724,247.18ZM728.71,239.65 733.41,238.71 737.18,239.65 738.12,242.47 734.35,243.41 732.47,244.35 735.29,247.18 740.94,244.35 746.59,241.15 753.18,244.35 753.18,262.59 749.41,258.82 745.65,259.76 747.53,256 742.82,251.29 737.18,248.47 733.41,244.71 732.47,246.24 731.53,242.47ZM669.41,254.68 675.06,253.18 683.53,254.12 691.06,257.88 688.24,259.76 678.82,258.45 670.35,256.56ZM694.82,261.08 698.59,260.71 698.59,262.21 695.39,262.21ZM700.47,263.53 704.24,262.96 703.67,264.47ZM705.18,261.08 709.88,260.33 709.32,261.65ZM711.76,263.53 717.41,261.08 718.35,262.21 712.71,264.47ZM669.41,242.47 671.29,241.53 671.67,244.35ZM674.12,244.35 676,244.35 676,245.29 674.12,245.29Z" fill="#f768a1"/>
<path d="M753.18,245.65 761.65,248.47 767.29,254.12 770.12,258.82 772.94,263.53 775.76,266.35 770.12,265.41 764.47,260.71 759.76,259.76 753.18,262.59ZM771.2,252.8 774.93,253.86 779.73,250.66 777.06,244.27 782.93,249.06 780.26,252.26 774.93,254.93Z" fill="#7a0177"/>
<path d="M700.47,186 705.18,185.44 706.12,190.71 705.18,196.35 708.94,200.12 705.18,201.06 701.41,196.35 699.53,191.65ZM707.06,203.88 709.88,204.82 708.94,208.59 707.44,207.65ZM711.76,202 715.53,202.38 715.53,206.71 712.71,205.76ZM709.88,207.65 711.2,211.41 709.32,210.47ZM696.71,214.24 701.41,205.76 702.35,207.27 697.65,214.8ZM708,215.18 712.71,213.29 715.53,210.47 718.35,212.35 719.29,218 716.47,221.76 713.65,218 708.94,218Z" fill="#7a0177"/>
<path d="M502.94,150.59 507.06,147.65 514.71,151.18 520.59,154.12 524.71,155.88 526.47,157.65 528.24,160 531.18,162.94 533.53,165.88 535.29,167.65 537.65,170 538.82,172.35 543.53,173.53 546.47,174.12 547.65,177.65 546.47,181.76 540.59,185.29 531.18,187.06 528.24,190 520,190 518.82,191.18 512.94,184.12 509.41,178.24 507.06,172.35 503.53,167.65 500,162.94 498.82,158.24 501.18,155.29Z" fill="#feebe2"/>
<path d="M518.82,191.18 520,190 528.24,190 531.18,187.06 540.59,185.29 542.35,190.59 537.65,194.71 530.59,198.24 525.29,200.59 521.18,202.35 519.41,198.24Z" fill="#f768a1"/>
<path d="M540.59,185.29 546.47,181.76 547.65,177.65 546.47,174.12 548.24,171.18 549.41,169.41 551.76,172.35 557.06,175.29 555.29,179.41 552.35,184.12 547.06,190 542.35,190.59ZM548,165.06 549.18,165.06 549.41,167.65 548.47,167.41Z" fill="#fbb4b9"/>
<path d="M537.65,170.59 541.76,171.18 545.29,168.82 547.65,165.88 548.24,169.41 546.47,174.12 543.53,173.53 538.82,172.35Z" fill="#f768a1"/>
<path d="M498.24,147.65 502.35,146.47 505.29,145.29 507.06,147.65 502.94,150.59 501.18,155.29 498.82,155.88 499.41,151.76Z" fill="#c51b8a"/>
<path d="M496.47,147.94 498.24,145 501.18,146.18 499.41,149.12 498.24,152.65 497.06,154.41 496.47,150.88Z" fill="#7a0177"/>
<path d="M525.29,155.29 528.24,154.71 528.24,157.65 526.47,157.65Z" fill="#c51b8a"/>
<path d="M534.71,165.88 536.47,165.29 537.41,167.65 535.88,168.82Z" fill="#fbb4b9"/>
<path d="M690.82,127.06 692.71,123.29 698.35,120.47 702.12,118.59 703.06,122.35 699.29,128 698.35,131.76 694.59,132.71 693.65,128.94Z" fill="#feebe2"/>
<path d="M698.79,130.75 702.55,131.38 705.69,134.52 707.57,138.28 706.32,140.79 702.55,141.42 700.67,137.66 698.79,133.89Z" fill="#feebe2"/>
<path d="M722.01,112.55 725.14,113.18 728.91,115.06 731.42,114.43 733.93,117.57 730.17,119.46 727.66,121.97 724.52,122.59 723.26,120.08 721.38,118.83 722.89,115.69ZM725.14,123.85 727.66,124.48 730.17,128.24 732.05,132.63 733.3,137.66 732.05,140.17 727.66,142.05 725.77,143.93 723.89,144.56 723.26,142.68 720.12,143.3 720.75,145.19 716.99,145.81 714.48,143.93 711.97,143.3 713.22,140.79 716.99,138.91 721.38,137.03 724.52,134.52 722.01,135.14 722.63,133.26 725.14,132.63 726.4,128.87ZM710.08,144.56 713.85,143.93 716.36,146.44 716.61,150.21 713.85,151.46 711.97,148.95Z" fill="#feebe2"/>
<path d="M678.82,307.76 683.53,296.47 691.06,293.65 700.47,290.82 706.12,283.29 708,285.18 715.53,275.76 722.12,276.71 724.94,272.94 729.65,268.24 738.12,271.06 741.88,267.29 741.88,272 738.12,278.59 748.47,285.18 752.24,274.82 755.06,267.29 757.88,273.88 761.65,281.41 762.59,289.88 767.29,296.47 771.06,304 772,309.65 771.65,309.41 768.82,316 764.12,324.47 758.47,332 750.94,339.53 745.29,342.35 740.59,345.18 739.65,343.29 734.94,345.18 730.24,342.35 729.29,337.65 726.47,334.82 729.29,328.24 723.65,332.94 720.82,326.35 715.18,324.47 707.65,325.41 698.24,328.24 688.82,331.06 682.24,333.88 677.53,331.06 681.29,322.59 680.35,311.29 678.47,307.53ZM734,350.82 738.71,349.88 742.47,349.88 740.59,354.59 735.88,357.41 733.62,355.53Z" fill="#fbb4b9"/>
<path d="M806.47,332 808.35,334.82 809.29,340.47 814,341.04 810.24,344.24 806.47,347.06 802.71,350.82 799.88,351.76 799.88,348 803.65,344.24 806.47,338.59ZM773.53,364 778.24,360.24 786.71,355.53 795.18,349.88 798.94,349.88 797.06,353.65 790.47,357.41 782.94,362.12 776.35,365.51Z" fill="#f768a1"/>
<path d="M801.18,293.08 802.49,292.71 806.82,297.41 805.51,297.98Z" fill="#c51b8a"/>
<path d="M836.99,282.44 839.44,282.65 838.37,284.25 836.99,283.72ZM836.24,285.64 837.84,285.32 838.37,287.45 836.56,287.66Z" fill="#7a0177"/>
<path d="M810.12,277.85 810.97,277.64 812.25,279.99 811.5,280.31ZM812.78,281.59 813.53,281.37 814.6,283.29 813.85,283.61Z" fill="#c51b8a"/>
<path d="M519.18,112 523.88,108.24 530.47,108.24 529.53,111.06 524.82,112.94 526.71,117.65 530.47,122.35 533.29,126.12 536.12,131.76 535.18,134.59 529.53,133.65 526.71,129.88 527.65,124.24 524.82,119.53 521.06,116.71Z" fill="#fff"/>
<path d="M157.29,149.18 159.18,149.65 161.76,154.12 165.29,161.76 170.94,173.88 167.65,170 163.18,163.53 160,156.47 158.24,151.76Z" fill="#fff"/>
</g>
<g id="extra">
<line x1="279.761" y1="159.29" x2="261.913" y2="186.942" stroke="#1a1a1a" stroke-width="0.7"/>
<line x1="285.166" y1="164.946" x2="270.083" y2="189.079" stroke="#1a1a1a" stroke-width="0.7"/>
<line x1="289.188" y1="172.362" x2="271.34" y2="190.336" stroke="#1a1a1a" stroke-width="0.7"/>
<line x1="291.199" y1="181.16" x2="272.597" y2="193.478" stroke="#1a1a1a" stroke-width="0.7"/>
<line x1="290.822" y1="189.707" x2="273.854" y2="197.877" stroke="#1a1a1a" stroke-width="0.7"/>
<line x1="287.931" y1="197.877" x2="275.739" y2="200.391" stroke="#1a1a1a" stroke-width="0.7"/>
<line x1="283.658" y1="204.79" x2="271.968" y2="203.282" stroke="#1a1a1a" stroke-width="0.7"/>
<line x1="278.253" y1="210.069" x2="271.968" y2="207.304" stroke="#1a1a1a" stroke-width="0.7"/>
<path d="M273.2,194.5 L274.3,194.8 L274.8,197 L274.9,199.6 L273.8,199.4 L273.4,197Z" fill="#7a0177" stroke="#222" stroke-width="0.3"/>
<path d="M271.8,207.8 L273.6,207.6 L273.9,209.2 L272.2,209.4Z" fill="#7a0177" stroke="#222" stroke-width="0.3"/>
<path d="M270.2,188.6 L271,188.4 L271.4,190.4 L270.6,190.4Z" fill="#c51b8a" stroke="#222" stroke-width="0.3"/>
<circle cx="279.761" cy="159.29" r="2.25" fill="#f768a1" stroke="#444" stroke-width="0.55"/>
<circle cx="285.166" cy="164.946" r="2.25" fill="#e4e4e4" stroke="#444" stroke-width="0.55"/>
<circle cx="289.188" cy="172.362" r="2.25" fill="#e4e4e4" stroke="#444" stroke-width="0.55"/>
<circle cx="291.199" cy="181.16" r="2.25" fill="#e4e4e4" stroke="#444" stroke-width="0.55"/>
<circle cx="290.822" cy="189.707" r="2.25" fill="#c51b8a" stroke="#444" stroke-width="0.55"/>
<circle cx="287.931" cy="197.877" r="2.25" fill="#7a0177" stroke="#444" stroke-width="0.55"/>
<circle cx="283.658" cy="204.79" r="2.25" fill="#e4e4e4" stroke="#444" stroke-width="0.55"/>
<circle cx="278.253" cy="210.069" r="2.25" fill="#e4e4e4" stroke="#444" stroke-width="0.55"/>
<ellipse cx="9.41176" cy="261.976" rx="1.6" ry="2.2" transform="rotate(-25 9.41176 261.976)" fill="#e4e4e4" stroke="#555" stroke-width="0.5"/>
<ellipse cx="10.7294" cy="275.153" rx="1.6" ry="2.2" transform="rotate(-25 10.7294 275.153)" fill="#7a0177" stroke="#555" stroke-width="0.5"/>
<ellipse cx="9.03529" cy="292.094" rx="1.6" ry="2.2" transform="rotate(-25 9.03529 292.094)" fill="#e4e4e4" stroke="#555" stroke-width="0.5"/>
<ellipse cx="19.7647" cy="289.647" rx="1.6" ry="2.2" transform="rotate(-25 19.7647 289.647)" fill="#e4e4e4" stroke="#555" stroke-width="0.5"/>
<ellipse cx="46.4941" cy="294.353" rx="1.6" ry="2.2" transform="rotate(-25 46.4941 294.353)" fill="#e4e4e4" stroke="#555" stroke-width="0.5"/>
<circle cx="736.114" cy="218.864" r="2.2" fill="#e4e4e4" stroke="#555" stroke-width="0.5"/>
<circle cx="772.087" cy="216.02" r="2.2" fill="#e4e4e4" stroke="#555" stroke-width="0.5"/>
<circle cx="822.706" cy="219.148" r="2.2" fill="#e4e4e4" stroke="#555" stroke-width="0.5"/>
<circle cx="815.739" cy="238.628" r="2.2" fill="#e4e4e4" stroke="#555" stroke-width="0.5"/>
<circle cx="833.512" cy="238.059" r="2.2" fill="#e4e4e4" stroke="#555" stroke-width="0.5"/>
<circle cx="839.199" cy="256.828" r="2.2" fill="#e4e4e4" stroke="#555" stroke-width="0.5"/>
<circle cx="735.859" cy="218.565" r="2.2" fill="#e4e4e4" stroke="#555" stroke-width="0.5"/>
<circle cx="772.188" cy="215.741" r="2.2" fill="#e4e4e4" stroke="#555" stroke-width="0.5"/>
<circle cx="800.5" cy="261.1" r="2.4" fill="#7a0177" stroke="#333" stroke-width="0.5"/>
<circle cx="721.176" cy="265.412" r="2.3" fill="#fff5f0" stroke="#555" stroke-width="0.5"/>
<circle cx="665.741" cy="235.082" r="1.6" fill="#c51b8a" stroke="#333" stroke-width="0.5"/>
<circle cx="590.259" cy="224.918" r="2.3" fill="#fbb4b9" stroke="#555" stroke-width="0.5"/>
<circle cx="434" cy="235.741" r="2.3" fill="#ffffff" stroke="#555" stroke-width="0.5"/>
<circle cx="521.647" cy="270.729" r="1.4" fill="#fbb4b9" stroke="#555" stroke-width="0.5"/>
<circle cx="552.706" cy="293.506" r="1.1" fill="#c51b8a" stroke="#333" stroke-width="0.5"/>
<circle cx="547.624" cy="295.388" r="1.1" fill="#fbb4b9" stroke="#555" stroke-width="0.5"/>
<circle cx="482.118" cy="318.729" r="1.4" fill="#fff5f0" stroke="#555" stroke-width="0.5"/>
<circle cx="490.212" cy="310.071" r="1.1" fill="#feebe2" stroke="#555" stroke-width="0.5"/>
<circle cx="426.176" cy="125.765" r="1.7" fill="#e4e4e4" stroke="#555" stroke-width="0.5"/>
<circle cx="432.882" cy="121.647" r="1.7" fill="#e4e4e4" stroke="#555" stroke-width="0.5"/>
<circle cx="447.941" cy="115.176" r="1.7" fill="#e4e4e4" stroke="#555" stroke-width="0.5"/>
<circle cx="361" cy="193.6" r="2.2" fill="#fff5f0" stroke="#555" stroke-width="0.5"/>
<line x1="534.118" y1="160.824" x2="534.118" y2="165.294" stroke="#1a1a1a" stroke-width="0.7"/>
<circle cx="534.118" cy="160.824" r="1.5" fill="#7a0177" stroke="#333" stroke-width="0.5"/>
<circle cx="550.2" cy="249.1" r="2.2" fill="#e4e4e4" stroke="#555" stroke-width="0.5"/>
</g>
<defs><pattern id="nd" width="1.4" height="1.4" patternUnits="userSpaceOnUse"><rect width="1.4" height="1.4" fill="#f6f6f6"/><circle cx="0.7" cy="0.7" r="0.38" fill="#d4d4d4"/></pattern></defs>
<g id="legend">
<text class="leg" x="7" y="321.6" textLength="131" lengthAdjust="spacingAndGlyphs">ASMR (world) per 100,000</text>
<rect x="7" y="330" width="36" height="10.2" fill="#7a0177"/>
<rect x="7" y="342.1" width="36" height="10.2" fill="#c51b8a"/>
<rect x="7" y="354.2" width="36" height="10.2" fill="#f768a1"/>
<rect x="7" y="366.3" width="36" height="10.2" fill="#fbb4b9"/>
<rect x="7" y="378.4" width="36" height="10.2" fill="#feebe2"/>
<text class="leg" x="46.7" y="338.7" textLength="48.2" lengthAdjust="spacingAndGlyphs">19.3–38.9</text>
<text class="leg" x="46.7" y="350.8" textLength="43.7" lengthAdjust="spacingAndGlyphs">16.1–19.3</text>
<text class="leg" x="46.7" y="362.9" textLength="42.6" lengthAdjust="spacingAndGlyphs">13.7–16.1</text>
<text class="leg" x="46.7" y="375" textLength="40" lengthAdjust="spacingAndGlyphs">11.1–13.7</text>
<text class="leg" x="46.7" y="387.1" textLength="36" lengthAdjust="spacingAndGlyphs">2.3–11.1</text>
<rect x="106.7" y="366.3" width="36" height="10.2" fill="#808080"/>
<rect x="106.7" y="378.4" width="36" height="10.2" fill="url(#nd)"/>
<text class="leg" x="147" y="375" textLength="72.5" lengthAdjust="spacingAndGlyphs">Not applicable</text>
<text class="leg" x="147" y="387.1" textLength="38.8" lengthAdjust="spacingAndGlyphs">No data</text>
</g>
<g id="footer">
<text class="ft" x="5" y="431" textLength="445" lengthAdjust="spacingAndGlyphs">All rights reserved. The designations employed and the presentation of the material in this publication do not imply the expression</text>
<text class="ft" x="5" y="439.5" textLength="434" lengthAdjust="spacingAndGlyphs">of any opinion whatsoever on the part of the world health organization/international agency for research on cancer concerning</text>
<text class="ft" x="5" y="448" textLength="452" lengthAdjust="spacingAndGlyphs">the legal status of any country, territory, city or area or of its authorities, or concerning the delimitation of its frontiers or boundaries.</text>
<text class="ft" x="5" y="456.5" textLength="395" lengthAdjust="spacingAndGlyphs">dotted and dashed lines on maps represent approximate borderlines for which there may not yet be full agreement.</text>
<text class="ft" x="501.3" y="431" textLength="73" lengthAdjust="spacingAndGlyphs">Cancer TODAY | IARC</text>
<text class="ft" x="501.3" y="439.5" textLength="103" lengthAdjust="spacingAndGlyphs">https://gco.iarc.who.int/today</text>
<text class="ft" x="501.3" y="448" textLength="186.4" lengthAdjust="spacingAndGlyphs">Data version: Globocan 2022 (version 1.1) - 08.02.2024</text>
<text class="ft" x="501.3" y="456.5" textLength="93" lengthAdjust="spacingAndGlyphs">© All Rights Reserved 2024</text>
</g>
<g id="logos">
<text class="logo" x="721.7" y="401.1" font-size="12.9" textLength="111.6" lengthAdjust="spacingAndGlyphs">International Agency</text>
<text class="logo" x="721.7" y="416.7" font-size="12.9" textLength="121.5" lengthAdjust="spacingAndGlyphs">for Research on Cancer</text>
<line x1="721" y1="424.8" x2="843.5" y2="424.8" stroke="#a9d3ec" stroke-width="0.7" stroke-dasharray="0.8 0.8"/>
<text class="logo" x="764.6" y="446.2" font-size="12.1" textLength="70.5" lengthAdjust="spacingAndGlyphs">World Health</text>
<text class="logo" x="764.6" y="459" font-size="12.1" textLength="70.5" lengthAdjust="spacingAndGlyphs">Organization</text>
<g id="who" fill="none" stroke="#2a8ed0">
<circle cx="739.4" cy="448.6" r="12.0" stroke-width="1.0" opacity="1"/>
<circle cx="739.4" cy="448.6" r="9.0" stroke-width="0.6" opacity="0.85"/>
<circle cx="739.4" cy="448.6" r="6.0" stroke-width="0.6" opacity="0.85"/>
<circle cx="739.4" cy="448.6" r="3.0" stroke-width="0.6" opacity="0.85"/>
<line x1="751.40" y1="448.60" x2="727.40" y2="448.60" stroke-width="0.5" opacity="0.8"/>
<line x1="750.49" y1="453.19" x2="728.31" y2="444.01" stroke-width="0.5" opacity="0.8"/>
<line x1="747.89" y1="457.09" x2="730.91" y2="440.11" stroke-width="0.5" opacity="0.8"/>
<line x1="743.99" y1="459.69" x2="734.81" y2="437.51" stroke-width="0.5" opacity="0.8"/>
<line x1="739.40" y1="460.60" x2="739.40" y2="436.60" stroke-width="0.5" opacity="0.8"/>
<line x1="734.81" y1="459.69" x2="743.99" y2="437.51" stroke-width="0.5" opacity="0.8"/>
<line x1="730.91" y1="457.09" x2="747.89" y2="440.11" stroke-width="0.5" opacity="0.8"/>
<line x1="728.31" y1="453.19" x2="750.49" y2="444.01" stroke-width="0.5" opacity="0.8"/>
</g>
<g fill="#2a8ed0" stroke="none">
<path d="M729.90,450.10 733.40,451.10 734.90,449.10 735.90,452.10 734.40,454.60 731.90,453.10 730.40,452.60Z"/>
<path d="M740.90,444.10 744.40,443.60 746.40,446.10 745.40,449.10 742.90,450.10 741.40,448.10 740.60,446.10Z"/>
<path d="M741.40,451.60 744.40,451.10 745.90,453.10 744.40,456.60 742.40,457.10 741.20,454.60Z"/>
<path d="M734.90,442.10 737.90,440.10 738.60,442.60 736.40,445.10 734.40,445.60Z"/>
<path d="M736.90,447.10 738.60,446.10 738.60,450.60 736.90,451.10 736.20,449.10Z"/>
<rect x="738.85" y="431.6" width="1.1" height="29.5" rx="0.5"/>
</g>
<path d="M739.9,437.6 C744.4,438.6 744.4,443.1 739.4,443.6 C734.9,444.1 734.9,448.6 739.4,449.1 C742.9,449.6 742.9,453.1 739.4,453.6 C736.9,454.1 736.9,456.6 739.4,457.1" fill="none" stroke="#2a8ed0" stroke-width="1.0" stroke-linecap="round"/>
<g fill="#2a8ed0" stroke="none">
<ellipse cx="733.62" cy="464.66" rx="2.3" ry="0.95" transform="rotate(-188.0 733.62 464.66)"/>
<ellipse cx="733.45" cy="462.10" rx="1.9" ry="0.8" transform="rotate(-135.0 733.45 462.10)"/>
<ellipse cx="729.35" cy="462.41" rx="2.3" ry="0.95" transform="rotate(-171.5 729.35 462.41)"/>
<ellipse cx="730.00" cy="459.88" rx="1.9" ry="0.8" transform="rotate(-118.5 730.00 459.88)"/>
<ellipse cx="725.90" cy="459.07" rx="2.3" ry="0.95" transform="rotate(-155.0 725.90 459.07)"/>
<ellipse cx="727.33" cy="456.77" rx="1.9" ry="0.8" transform="rotate(-102.0 727.33 456.77)"/>
<ellipse cx="723.57" cy="454.90" rx="2.3" ry="0.95" transform="rotate(-138.5 723.57 454.90)"/>
<ellipse cx="725.65" cy="453.02" rx="1.9" ry="0.8" transform="rotate(-85.5 725.65 453.02)"/>
<ellipse cx="722.54" cy="450.26" rx="2.3" ry="0.95" transform="rotate(-122.0 722.54 450.26)"/>
<ellipse cx="725.10" cy="448.95" rx="1.9" ry="0.8" transform="rotate(-69.0 725.10 448.95)"/>
<ellipse cx="722.90" cy="445.52" rx="2.3" ry="0.95" transform="rotate(-105.5 722.90 445.52)"/>
<ellipse cx="725.73" cy="444.90" rx="1.9" ry="0.8" transform="rotate(-52.5 725.73 444.90)"/>
<ellipse cx="724.62" cy="441.07" rx="2.3" ry="0.95" transform="rotate(-89.0 724.62 441.07)"/>
<ellipse cx="727.49" cy="441.19" rx="1.9" ry="0.8" transform="rotate(-36.0 727.49 441.19)"/>
<ellipse cx="727.55" cy="437.29" rx="2.3" ry="0.95" transform="rotate(-72.5 727.55 437.29)"/>
<ellipse cx="730.22" cy="438.13" rx="1.9" ry="0.8" transform="rotate(-19.5 730.22 438.13)"/>
<ellipse cx="731.47" cy="434.48" rx="2.3" ry="0.95" transform="rotate(-56.0 731.47 434.48)"/>
<ellipse cx="733.72" cy="435.98" rx="1.9" ry="0.8" transform="rotate(-3.0 733.72 435.98)"/>
<ellipse cx="745.18" cy="464.66" rx="2.3" ry="0.95" transform="rotate(8.0 745.18 464.66)"/>
<ellipse cx="745.35" cy="462.10" rx="1.9" ry="0.8" transform="rotate(-45.0 745.35 462.10)"/>
<ellipse cx="749.45" cy="462.41" rx="2.3" ry="0.95" transform="rotate(-8.5 749.45 462.41)"/>
<ellipse cx="748.80" cy="459.88" rx="1.9" ry="0.8" transform="rotate(-61.5 748.80 459.88)"/>
<ellipse cx="752.90" cy="459.07" rx="2.3" ry="0.95" transform="rotate(-25.0 752.90 459.07)"/>
<ellipse cx="751.47" cy="456.77" rx="1.9" ry="0.8" transform="rotate(-78.0 751.47 456.77)"/>
<ellipse cx="755.23" cy="454.90" rx="2.3" ry="0.95" transform="rotate(-41.5 755.23 454.90)"/>
<ellipse cx="753.15" cy="453.02" rx="1.9" ry="0.8" transform="rotate(-94.5 753.15 453.02)"/>
<ellipse cx="756.26" cy="450.26" rx="2.3" ry="0.95" transform="rotate(-58.0 756.26 450.26)"/>
<ellipse cx="753.70" cy="448.95" rx="1.9" ry="0.8" transform="rotate(-111.0 753.70 448.95)"/>
<ellipse cx="755.90" cy="445.52" rx="2.3" ry="0.95" transform="rotate(-74.5 755.90 445.52)"/>
<ellipse cx="753.07" cy="444.90" rx="1.9" ry="0.8" transform="rotate(-127.5 753.07 444.90)"/>
<ellipse cx="754.18" cy="441.07" rx="2.3" ry="0.95" transform="rotate(-91.0 754.18 441.07)"/>
<ellipse cx="751.31" cy="441.19" rx="1.9" ry="0.8" transform="rotate(-144.0 751.31 441.19)"/>
<ellipse cx="751.25" cy="437.29" rx="2.3" ry="0.95" transform="rotate(-107.5 751.25 437.29)"/>
<ellipse cx="748.58" cy="438.13" rx="1.9" ry="0.8" transform="rotate(-160.5 748.58 438.13)"/>
<ellipse cx="747.33" cy="434.48" rx="2.3" ry="0.95" transform="rotate(-124.0 747.33 434.48)"/>
<ellipse cx="745.08" cy="435.98" rx="1.9" ry="0.8" transform="rotate(-177.0 745.08 435.98)"/>
</g>
<path d="M730.4,461.8 Q739.4,465.1 748.4,461.8" fill="none" stroke="#2a8ed0" stroke-width="1.1"/>
<path d="M734.4,464.90000000000003 L744.4,462.6 M744.4,464.90000000000003 L734.4,462.6" fill="none" stroke="#2a8ed0" stroke-width="0.7"/>
</g>
</svg>
</body></html>
